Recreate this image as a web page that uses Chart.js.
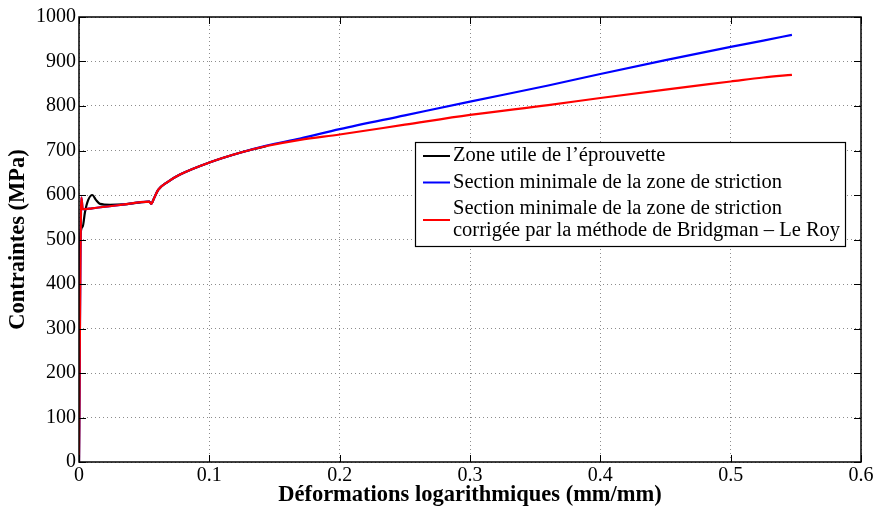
<!DOCTYPE html>
<html>
<head>
<meta charset="UTF-8"/>
<title>Contraintes - déformations</title>
<script src="https://cdn.jsdelivr.net/npm/chart.js@4.4.1/dist/chart.umd.min.js"></script>
<style>
html,body{margin:0;padding:0;background:#fff;}
</style>
</head>
<body>
<canvas id="chart" width="876" height="509"></canvas>
<script>
// values
const seriesNames = [
    ['Zone utile de l\u2019éprouvette'],
    ['Section minimale de la zone de striction'],
    ['Section minimale de la zone de striction', 'corrigée par la méthode de Bridgman \u2013 Le Roy']
];
const seriesColors = ['#000000', '#0000ff', '#ff0000'];

const blackX = [0, 0.0004, 0.0008, 0.0028, 0.0046, 0.0071, 0.0102, 0.013, 0.0161, 0.0238, 0.034, 0.046, 0.054, 0.0555, 0.057, 0.0609, 0.0673, 0.0775, 0.1, 0.1235, 0.144];
const blackY = [0, 250, 499, 529, 562, 589, 600, 589, 580, 578, 579, 583, 585, 580, 589, 612, 628, 646, 673, 695, 710];

const blueX = [0, 0.0006, 0.0012, 0.0018, 0.0024, 0.0028, 0.01, 0.03, 0.054, 0.0555, 0.057, 0.0609, 0.0673, 0.0775, 0.1, 0.1235, 0.144, 0.1696, 0.2, 0.25, 0.3, 0.36, 0.4, 0.45, 0.5, 0.525, 0.547];
const blueY = [0, 250, 480, 594, 580, 568, 570, 577, 585, 580, 589, 612, 628, 646, 673, 695, 711, 727, 748, 779, 810, 846, 872, 903, 933, 947, 960];

const redX = [0, 0.0006, 0.0012, 0.0018, 0.0024, 0.0028, 0.01, 0.03, 0.054, 0.0555, 0.057, 0.0609, 0.0673, 0.0775, 0.1, 0.1235, 0.144, 0.1696, 0.2, 0.25, 0.3, 0.36, 0.4, 0.45, 0.5, 0.525, 0.547];
const redY = [0, 250, 480, 594, 580, 568, 570, 577, 585, 580, 589, 612, 628, 646, 673, 695, 710, 724, 736, 758, 780, 802, 818, 837, 855, 864, 870];

const xTicks = [0, 0.1, 0.2, 0.3, 0.4, 0.5, 0.6];
const yTicks = [0, 100, 200, 300, 400, 500, 600, 700, 800, 900, 1000];

const xTitle = 'Déformations logarithmiques (mm/mm)';
const yTitle = 'Contraintes (MPa)';

const serif = "'Liberation Serif', 'Times New Roman', serif";

function pts(xs, ys) {
    return xs.map((x, i) => ({x: x, y: ys[i]}));
}

// box around the axes with inward ticks, matlab style
const frame = {
    id: 'frame',
    afterDatasetsDraw(chart) {
        const {ctx, chartArea: a, scales: {x, y}} = chart;
        ctx.save();
        ctx.strokeStyle = '#000';
        ctx.lineWidth = 1;
        ctx.beginPath();
        xTicks.forEach(v => {
            const px = Math.round(x.getPixelForValue(v)) + 0.5;
            ctx.moveTo(px, a.bottom); ctx.lineTo(px, a.bottom - 7);
            ctx.moveTo(px, a.top); ctx.lineTo(px, a.top + 7);
        });
        yTicks.forEach(v => {
            const py = Math.round(y.getPixelForValue(v)) + 0.5;
            ctx.moveTo(a.left, py); ctx.lineTo(a.left + 7, py);
            ctx.moveTo(a.right, py); ctx.lineTo(a.right - 7, py);
        });
        ctx.stroke();
        ctx.lineWidth = 1.5;
        ctx.strokeRect(a.left, a.top, a.right - a.left, a.bottom - a.top);
        ctx.restore();
    }
};

// legend box inside the plot
const boxLegend = {
    id: 'boxLegend',
    afterDraw(chart, args, o) {
        const ctx = chart.ctx;
        ctx.save();
        ctx.fillStyle = '#fff';
        ctx.fillRect(o.left, o.top, o.width, o.height);
        ctx.strokeStyle = '#000';
        ctx.lineWidth = 1.2;
        ctx.strokeRect(o.left + 0.5, o.top + 0.5, o.width, o.height);
        ctx.font = o.font;
        ctx.textBaseline = 'middle';
        ctx.fillStyle = '#000';
        let yy = o.top + o.firstRow;
        chart.data.datasets.forEach(ds => {
            const lines = ds.label.split('\n');
            const mid = yy + (lines.length - 1) * o.lineGap / 2;
            ctx.strokeStyle = ds.borderColor;
            ctx.lineWidth = 2;
            ctx.beginPath();
            ctx.moveTo(o.left + 8, mid);
            ctx.lineTo(o.left + 35, mid);
            ctx.stroke();
            lines.forEach((t, k) => {
                ctx.fillText(t, o.left + 38, yy + k * o.lineGap);
            });
            yy += lines.length * o.lineGap + o.rowGap;
        });
        ctx.restore();
    }
};

const ctx = document.getElementById('chart').getContext('2d');
new Chart(ctx, {
    type: 'line',
    data: {
        datasets: [
            {label: seriesNames[0].join('\n'), data: pts(blackX, blackY), borderColor: seriesColors[0], order: 3},
            {label: seriesNames[1].join('\n'), data: pts(blueX, blueY), borderColor: seriesColors[1], order: 2},
            {label: seriesNames[2].join('\n'), data: pts(redX, redY), borderColor: seriesColors[2], order: 1}
        ]
    },
    options: {
        responsive: false,
        animation: false,
        events: [],
        elements: {
            point: {radius: 0},
            line: {borderWidth: 2.2, cubicInterpolationMode: 'monotone'}
        },
        layout: {padding: {top: 17, right: 15, left: 0, bottom: 0}},
        scales: {
            x: {
                type: 'linear',
                min: 0, max: 0.6,
                afterBuildTicks: s => { s.ticks = xTicks.map(v => ({value: v})); },
                afterFit: s => { s.height = 47; },
                ticks: {
                    color: '#000',
                    font: {family: serif, size: 20},
                    padding: 2,
                    maxRotation: 0,
                    callback: v => String(v)
                },
                grid: {color: '#8c8c8c', drawTicks: false},
                border: {display: false, dash: [1, 3]},
                title: {
                    display: true, text: xTitle, color: '#000',
                    font: {family: serif, size: 22.5, weight: 'bold'},
                    padding: {top: 0, bottom: 0}
                }
            },
            y: {
                type: 'linear',
                min: 0, max: 1000,
                afterBuildTicks: s => { s.ticks = yTicks.map(v => ({value: v})); },
                afterFit: s => { s.width = 79; },
                ticks: {
                    color: '#000',
                    font: {family: serif, size: 20},
                    padding: 3,
                    callback: v => String(v)
                },
                grid: {color: '#8c8c8c', drawTicks: false},
                border: {display: false, dash: [1, 3]},
                title: {
                    display: true, text: yTitle, color: '#000',
                    font: {family: serif, size: 22.5, weight: 'bold'},
                    padding: {top: 5, bottom: 0}
                }
            }
        },
        plugins: {
            legend: {display: false},
            tooltip: {enabled: false},
            boxLegend: {
                left: 415, top: 142, width: 430, height: 104,
                font: "20.5px " + serif,
                firstRow: 14, lineGap: 22, rowGap: 4.5
            }
        }
    },
    plugins: [frame, boxLegend]
});
</script>
</body>
</html>
